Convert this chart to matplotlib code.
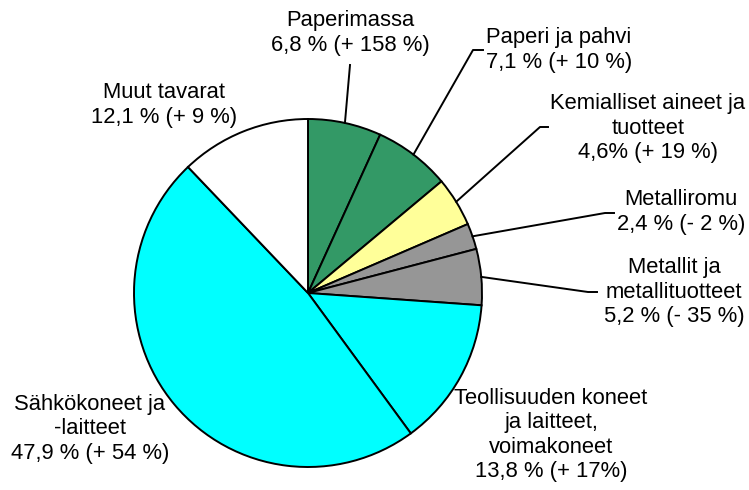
import numpy as np
import matplotlib
matplotlib.use("Agg")
import matplotlib.pyplot as plt

plt.rcParams['font.family'] = ['Liberation Sans', 'DejaVu Sans']

# Data: share of exports (%) and change from previous year
categories = ["Paperimassa", "Paperi ja pahvi", "Kemialliset aineet ja\ntuotteet",
              "Metalliromu", "Metallit ja\nmetallituotteet",
              "Teollisuuden koneet\nja laitteet,\nvoimakoneet",
              "Sähkökoneet ja\n-laitteet", "Muut tavarat"]
shares = [6.8, 7.1, 4.6, 2.4, 5.2, 13.8, 47.9, 12.1]
share_text = ["6,8 %", "7,1 %", "4,6%", "2,4 %", "5,2 %", "13,8 %", "47,9 %", "12,1 %"]
change_text = ["(+ 158 %)", "(+ 10 %)", "(+ 19 %)", "(- 2 %)", "(- 35 %)",
               "(+ 17%)", "(+ 54 %)", "(+ 9 %)"]
colors = ["#339966", "#339966", "#FFFF99", "#969696", "#969696",
          "#00FFFF", "#00FFFF", "#FFFFFF"]

W, H = 749, 490
fig = plt.figure(figsize=(W / 100, H / 100), dpi=100)
ax = fig.add_axes([0, 0, 1, 1])
ax.set_xlim(0, W)
ax.set_ylim(0, H)
ax.set_aspect('equal')
ax.axis('off')

cx, cy, r = 308, H - 293, 174
wedges, _ = ax.pie(shares, colors=colors, startangle=90, counterclock=False,
                   center=(cx, cy), radius=r,
                   wedgeprops=dict(edgecolor='black', linewidth=1.4))
ax.set_xlim(0, W)
ax.set_ylim(0, H)

# label block centres (px from top) and leader elbow points
label_pos = [(350, 33), (559, 50), (648, 128), (681, 212), (674, 292),
             (551, 435), (90, 429), (164, 105)]
elbows = [(350, 65, 0), (473, 50, 10), (540, 127, 8), (605, 213, 9),
          (588, 292, 9), None, None, None]

for i, w in enumerate(wedges):
    txt = categories[i] + "\n" + share_text[i] + " " + change_text[i]
    lx, ly = label_pos[i]
    ax.text(lx, H - ly, txt, ha='center', va='center', fontsize=15.8,
            linespacing=1.2, multialignment='center')
    if elbows[i] is not None:
        mid = np.deg2rad((w.theta1 + w.theta2) / 2)
        ex, ey = cx + r * np.cos(mid), cy + r * np.sin(mid)
        bx, by, tick = elbows[i]
        ax.plot([ex, bx, bx + tick], [ey, H - by, H - by], color='black', lw=1.4)

fig.savefig("out.png", dpi=100)
